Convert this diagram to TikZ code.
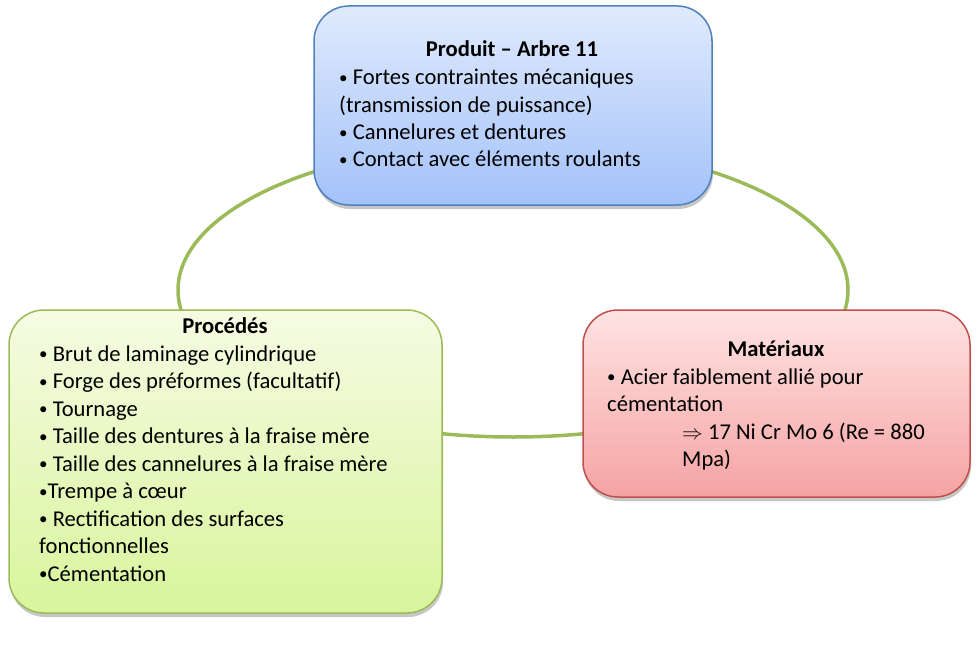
\documentclass[tikz,border=0pt]{standalone}
\usepackage{fontspec}
\setmainfont{Carlito}
\usetikzlibrary{shadows}
\definecolor{ringgreen}{HTML}{9BBB59}
\definecolor{bluetop}{HTML}{E0EAFC}
\definecolor{bluebot}{HTML}{A3C2FA}
\definecolor{blueline}{HTML}{4F81BD}
\definecolor{redtop}{HTML}{FFE3E3}
\definecolor{redbot}{HTML}{F5A3A3}
\definecolor{redline}{HTML}{C0504D}
\definecolor{greentop}{HTML}{F6FBE3}
\definecolor{greenbot}{HTML}{D8F59C}
\definecolor{greenline}{HTML}{9BBB59}
\newcommand\bul{\raisebox{1.5pt}{\fontsize{17}{20}\selectfont•}}
\tikzset{
  card/.style={rectangle, rounded corners=35pt, line width=1.5pt, inner sep=0pt,
    drop shadow={shadow xshift=1pt, shadow yshift=-4pt, opacity=0.22, fill=black}},
  bluecard/.style={card, draw=blueline, top color=bluetop, bottom color=bluebot},
  redcard/.style={card, draw=redline, top color=redtop, bottom color=redbot},
  greencard/.style={card, draw=greenline, top color=greentop, bottom color=greenbot},
  txt/.style={inner sep=0pt, anchor=base west, font=\fontsize{22.6}{27}\selectfont},
  ttl/.style={inner sep=0pt, anchor=base, font=\fontsize{22.6}{27}\selectfont\bfseries},
  ring/.style={draw=ringgreen, line width=3.5pt}
}
\begin{document}
\begin{tikzpicture}[x=1pt,y=-1pt]
\useasboundingbox (0,0) rectangle (979,647);
% ring
\draw[ring] (513,290) ellipse [x radius=335, y radius=147];
% boxes
\node[bluecard, minimum width=398pt, minimum height=199pt] (prod) at (513,105.5) {};
\node[redcard, minimum width=387pt, minimum height=187pt] (mat) at (776.5,403.5) {};
\node[greencard, minimum width=433pt, minimum height=303pt] (proc) at (225.5,461.5) {};
% product text
\node[ttl] (prodt) at (512,57) {Produit – Arbre 11};
\node[txt] (pr1) at (339,85) {\bul\ Fortes contraintes mécaniques};
\node[txt] (pr2) at (339,112.3) {(transmission de puissance)};
\node[txt] (pr3) at (339,139.6) {\bul\ Cannelures et dentures};
\node[txt] (pr4) at (339,167) {\bul\ Contact avec éléments roulants};
% materials text
\node[ttl] (matt) at (776,356) {Matériaux};
\node[txt] (ma1) at (607,384) {\bul\ Acier faiblement allié pour};
\node[txt] (ma2) at (607,411) {cémentation};
\node[txt] (ma3) at (682,439) {$\Rightarrow$ 17 Ni Cr Mo 6 (Re = 880};
\node[txt] (ma4) at (682,466) {Mpa)};
% process text
\node[ttl] (proct) at (225,333) {Procédés};
\node[txt] (pc1) at (39,361) {\bul\ Brut de laminage cylindrique};
\node[txt] (pc2) at (39,388.5) {\bul\ Forge des préformes (facultatif)};
\node[txt] (pc3) at (39,416) {\bul\ Tournage};
\node[txt] (pc4) at (39,443.5) {\bul\ Taille des dentures à la fraise mère};
\node[txt] (pc5) at (39,471) {\bul\ Taille des cannelures à la fraise mère};
\node[txt] (pc6) at (39,498.5) {\bul Trempe à cœur};
\node[txt] (pc7) at (39,526) {\bul\ Rectification des surfaces};
\node[txt] (pc8) at (39,553.5) {fonctionnelles};
\node[txt] (pc9) at (39,581) {\bul Cémentation};
\end{tikzpicture}
\end{document}
